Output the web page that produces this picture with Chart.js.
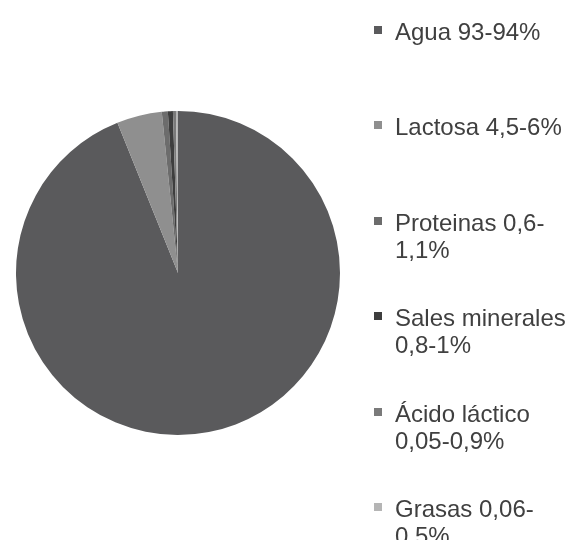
<!DOCTYPE html>
<html>
<head>
<meta charset="utf-8">
<script src="https://cdn.jsdelivr.net/npm/chart.js@4.4.0/dist/chart.umd.min.js"></script>
<style>
    body { margin: 0; background: #fff; }
    #wrap { position: relative; width: 573px; height: 540px; overflow: hidden; }
    #pieBox { position: absolute; left: 0; top: 0; width: 360px; height: 540px; }
    #legend { position: absolute; left: 0; top: 0; width: 573px; height: 540px; }
    .item { position: absolute; left: 374px; font-family: "Liberation Sans", Arial, sans-serif;
            font-size: 24px; line-height: 27px; color: #404040; white-space: nowrap; }
    .box { position: absolute; left: 0; top: 8px; width: 8px; height: 8px; }
    .txt { position: absolute; left: 21px; top: 0; }
</style>
</head>
<body>
<div id="wrap">
    <div id="pieBox"><canvas id="myChart" width="360" height="540"></canvas></div>
    <div id="legend"></div>
</div>
<script>
var labels = [
    ['Agua 93-94%'],
    ['Lactosa 4,5-6%'],
    ['Proteinas 0,6-', '1,1%'],
    ['Sales minerales', '0,8-1%'],
    ['Ácido láctico', '0,05-0,9%'],
    ['Grasas 0,06-', '0,5%']
];
var values = [93.9, 4.5, 0.6, 0.5, 0.3, 0.2];
var colors = ['#5a5a5c', '#8f8f8f', '#6c6c6c', '#3e3e3e', '#7a7a7a', '#b5b5b5'];

var ctx = document.getElementById('myChart').getContext('2d');
var chart = new Chart(ctx, {
    type: 'pie',
    data: {
        labels: labels,
        datasets: [{
            data: values,
            backgroundColor: colors,
            borderWidth: 0
        }]
    },
    options: {
        responsive: false,
        animation: false,
        layout: { padding: { left: 16, right: 20, top: 111, bottom: 105 } },
        plugins: {
            legend: { display: false },
            tooltip: { enabled: false }
        }
    }
});

// legend on the right, built from the chart's own legend items
var legendDiv = document.getElementById('legend');
var items = chart.options.plugins.legend.labels.generateLabels(chart);
items.forEach(function(it, i) {
    var d = document.createElement('div');
    d.className = 'item';
    d.style.top = (18 + i * 95.4) + 'px';
    var b = document.createElement('span');
    b.className = 'box';
    b.style.background = it.fillStyle;
    var t = document.createElement('span');
    t.className = 'txt';
    t.innerHTML = labels[i].join('<br>');
    d.appendChild(b);
    d.appendChild(t);
    legendDiv.appendChild(d);
});
</script>
</body>
</html>
